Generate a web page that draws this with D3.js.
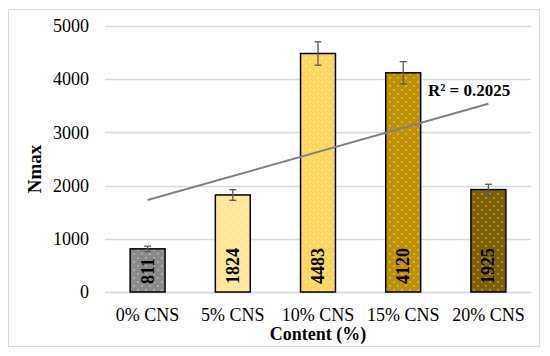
<!DOCTYPE html>
<html>
<head>
<meta charset="utf-8">
<script src="https://cdn.jsdelivr.net/npm/d3@7"></script>
<style>
  body { margin: 0; background: #fff; }
  text { font-family: "Liberation Serif", "Times New Roman", serif; }
</style>
</head>
<body>
<svg width="550" height="356"></svg>
<script>
// Data
const categories = ['0% CNS', '5% CNS', '10% CNS', '15% CNS', '20% CNS'];
const values = [811, 1824, 4483, 4120, 1925];
const errors = [50, 100, 220, 210, 100];
const colors = ['#8a8a8a', '#ffe699', '#fdd660', '#bf9000', '#7f6000'];
const yTicks = [0, 1000, 2000, 3000, 4000, 5000];
const r2Label = 'R² = 0.2025';

let svg = d3.select('svg');
let margin = { left: 105, right: 19, top: 26, bottom: 64 };
let width = 550, height = 356;

// outer frame
svg.append('rect')
  .attr('x', 8.5).attr('y', 9.5)
  .attr('width', 531).attr('height', 337)
  .attr('fill', '#fff').attr('stroke', '#d9d9d9');

let x = d3.scaleBand()
  .domain(categories)
  .range([margin.left, width - margin.right])
  .paddingInner(0.59).paddingOuter(0.295);

let y = d3.scaleLinear()
  .domain([0, 5000])
  .range([height - margin.bottom, margin.top]);

// dot patterns
let defs = svg.append('defs');
colors.forEach((c, i) => {
  let p = defs.append('pattern')
    .attr('id', 'dots' + i)
    .attr('patternUnits', 'userSpaceOnUse')
    .attr('width', 8).attr('height', 8);
  p.append('rect').attr('width', 8).attr('height', 8).attr('fill', c);
  p.append('circle').attr('cx', 2).attr('cy', 2).attr('r', 0.7).attr('fill', '#fff').attr('opacity', 0.8);
  p.append('circle').attr('cx', 6).attr('cy', 6).attr('r', 0.7).attr('fill', '#fff').attr('opacity', 0.8);
});

// gridlines
svg.append('g')
  .selectAll('line')
  .data(yTicks)
  .enter().append('line')
    .attr('x1', margin.left).attr('x2', width - margin.right)
    .attr('y1', d => Math.round(y(d)) + 0.5).attr('y2', d => Math.round(y(d)) + 0.5)
    .attr('stroke', '#d9d9d9').attr('stroke-width', 1.3);

// y axis labels
let yAxis = svg.append('g')
  .attr('transform', `translate(${margin.left},0)`)
  .call(d3.axisLeft(y).tickValues(yTicks).tickFormat(d3.format('d')).tickSize(0).tickPadding(16));
yAxis.select('.domain').remove();
yAxis.selectAll('text')
  .attr('font-size', 18).attr('fill', '#000');

// x axis labels
let xAxis = svg.append('g')
  .attr('transform', `translate(0,${height - margin.bottom})`)
  .call(d3.axisBottom(x).tickSize(0).tickPadding(16));
xAxis.select('.domain').attr('stroke', '#d9d9d9').attr('stroke-width', 1.3);
xAxis.selectAll('text')
  .attr('font-size', 18).attr('fill', '#000');

// bars
svg.append('g')
  .selectAll('rect')
  .data(values)
  .enter().append('rect')
    .attr('x', (d, i) => x(categories[i]))
    .attr('y', d => y(d))
    .attr('width', x.bandwidth())
    .attr('height', d => y(0) - y(d))
    .attr('fill', (d, i) => 'url(#dots' + i + ')')
    .attr('stroke', '#000').attr('stroke-width', 1.5);

// error bars
let eb = svg.append('g').attr('stroke', '#595959').attr('stroke-width', 1.3);
values.forEach((v, i) => {
  let cx = x(categories[i]) + x.bandwidth() / 2;
  eb.append('line').attr('x1', cx).attr('x2', cx).attr('y1', y(v + errors[i])).attr('y2', y(v - errors[i]));
  eb.append('line').attr('x1', cx - 3.5).attr('x2', cx + 3.5).attr('y1', y(v + errors[i])).attr('y2', y(v + errors[i]));
  eb.append('line').attr('x1', cx - 3.5).attr('x2', cx + 3.5).attr('y1', y(v - errors[i])).attr('y2', y(v - errors[i]));
});

// value labels inside bars
svg.append('g')
  .selectAll('text')
  .data(values)
  .enter().append('text')
    .attr('transform', (d, i) => `translate(${x(categories[i]) + x.bandwidth() / 2 + 6},${y(0) - 8}) rotate(-90)`)
    .attr('font-size', 18).attr('font-weight', 'bold').attr('fill', '#000')
    .text(d => d);

// linear trendline
let xs = values.map((d, i) => i + 1);
let mx = d3.mean(xs), my = d3.mean(values);
let slope = d3.sum(xs, (xi, i) => (xi - mx) * (values[i] - my)) / d3.sum(xs, xi => (xi - mx) ** 2);
let icpt = my - slope * mx;
let centre = i => x(categories[i]) + x.bandwidth() / 2;
svg.append('line')
  .attr('x1', centre(0)).attr('y1', y(icpt + slope * 1))
  .attr('x2', centre(4)).attr('y2', y(icpt + slope * 5))
  .attr('stroke', '#808080').attr('stroke-width', 2);

svg.append('text')
  .attr('x', 428).attr('y', 96)
  .attr('font-size', 17).attr('font-weight', 'bold').attr('fill', '#000')
  .text(r2Label);

// axis titles
svg.append('text')
  .attr('x', (margin.left + width - margin.right) / 2).attr('y', 340)
  .attr('text-anchor', 'middle')
  .attr('font-size', 18).attr('font-weight', 'bold')
  .text('Content (%)');

svg.append('text')
  .attr('transform', 'translate(41,169) rotate(-90)')
  .attr('text-anchor', 'middle')
  .attr('font-size', 19).attr('font-weight', 'bold')
  .text('Nmax');
</script>
</body>
</html>
